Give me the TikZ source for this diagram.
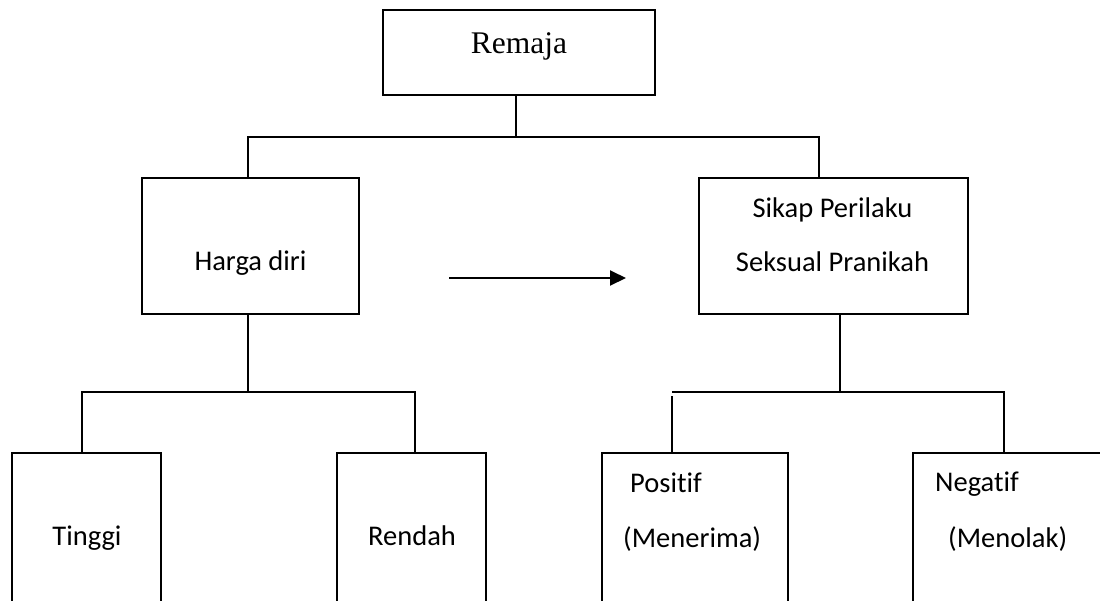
\documentclass[tikz,border=0pt]{standalone}
\usepackage{fontspec}
\setmainfont{Liberation Serif}
\newfontfamily\calfont[Ligatures={NoCommon,NoDiscretionary}]{Carlito}
\usetikzlibrary{arrows.meta}
\tikzset{
  box/.style={draw, line width=1.9pt, inner sep=0pt, outer sep=0pt, rectangle},
  conn/.style={line width=1.9pt},
  serifl/.style={inner sep=0pt, font=\fontsize{31.5}{36}\selectfont},
  sansl/.style={inner sep=0pt, font=\calfont\fontsize{28.5}{34}\selectfont},
}
\begin{document}
\begin{tikzpicture}[x=1pt,y=-1pt]
\useasboundingbox (0,0) rectangle (1100,600);
\clip (0,0) rectangle (1100,600);
\fill[white] (0,0) rectangle (1100,600);
% boxes
\node[box, minimum width=272pt, minimum height=85pt] (remaja) at (519,52.5) {};
\node[box, minimum width=217pt, minimum height=136pt] (harga) at (250.5,246) {};
\node[box, minimum width=269pt, minimum height=136pt] (sikap) at (833.5,246) {};
\node[box, minimum width=149pt, minimum height=200pt] (tinggi) at (86.5,553) {};
\node[box, minimum width=149pt, minimum height=200pt] (rendah) at (411.5,553) {};
\node[box, minimum width=186pt, minimum height=200pt] (positif) at (695,553) {};
\node[box, minimum width=200pt, minimum height=200pt] (negatif) at (1013,553) {};
% texts
\node[serifl, anchor=base] (tremaja) at (519,53) {Remaja};
\node[sansl, anchor=base] (tharga) at (250.5,270) {Harga diri};
\node[sansl, anchor=base] (tsikap1) at (832.5,217) {Sikap Perilaku};
\node[sansl, anchor=base] (tsikap2) at (832.5,271) {Seksual Pranikah};
\node[sansl, anchor=base] (ttinggi) at (87,545) {Tinggi};
\node[sansl, anchor=base] (trendah) at (412,545) {Rendah};
\node[sansl, anchor=base west] (tpos1) at (630,492) {Positif};
\node[sansl, anchor=base west] (tpos2) at (623,547) {(Menerima)};
\node[sansl, anchor=base west] (tneg1) at (935,491) {Negatif};
\node[sansl, anchor=base west] (tneg2) at (948,547) {(Menolak)};
% junction coordinates
\coordinate (ja) at (516,137);
\coordinate (jl) at (248,137);
\coordinate (jr) at (819,137);
\coordinate (jb) at (248,392);
\coordinate (jbl) at (82,392);
\coordinate (jbr) at (415,392);
\coordinate (jc) at (840,392);
\coordinate (jcl) at (672,392);
\coordinate (jcl2) at (672,396);
\coordinate (jcr) at (1004,392);
% connectors
\draw[conn] (remaja.south -| ja) -- (ja);
\draw[conn] (harga.north -| jl) -- (jl) -- (jr) -- (sikap.north -| jr);
\draw[conn] (harga.south -| jb) -- (jb);
\draw[conn] (tinggi.north -| jbl) -- (jbl) -- (jbr) -- (rendah.north -| jbr);
\draw[conn] (sikap.south -| jc) -- (jc);
\draw[conn] (jcl) -- (jcr) -- (negatif.north -| jcr);
\draw[conn] (jcl2) -- (positif.north -| jcl2);
% arrow
\coordinate (as) at (449,278);
\coordinate (ae) at (626,278);
\draw[conn, -{Triangle[length=16pt,width=15pt]}] (as) -- (ae);
\end{tikzpicture}
\end{document}
